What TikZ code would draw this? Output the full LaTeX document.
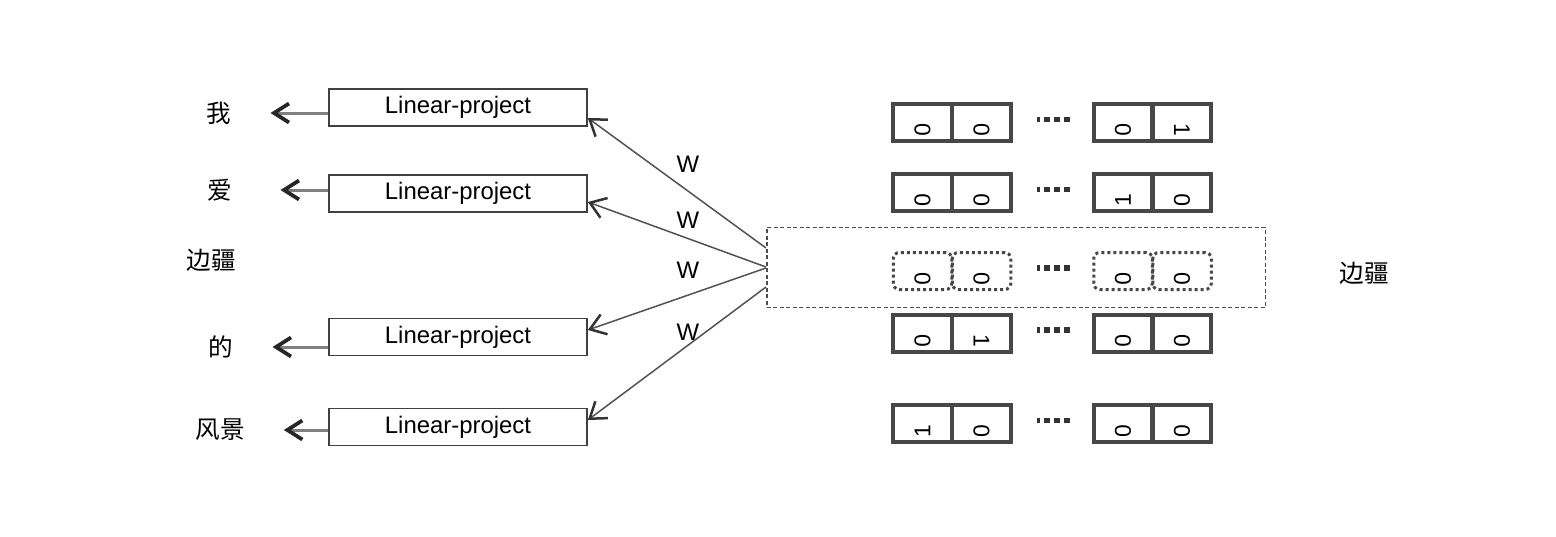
\documentclass[tikz,border=0pt]{standalone}
\usepackage{fontspec}
\setmainfont{Liberation Sans}
\newfontfamily\cjk{Noto Sans CJK SC}
\usepackage{tikz}
\usetikzlibrary{arrows.meta}
\usepackage{xcolor}
\newcommand{\celldots}{\rule{0.6mm}{1.1mm}\hspace{0.9mm}\rule{1.1mm}{1.1mm}\hspace{0.9mm}\rule{1.1mm}{1.1mm}\hspace{0.9mm}\rule{1.1mm}{1.1mm}}

\begin{document}
\begin{tikzpicture}[x=0.2mm,y=-0.2mm]
		
		\tikzset{proj/.style = {shape=rectangle,draw=black!75,line width=0.35mm,minimum width=51.6mm,minimum height=7.4mm,font=\fontsize{13.6}{16}\selectfont}}
		\tikzset{word/.style = {font=\cjk\fontsize{14}{17}\selectfont}}
		\tikzset{wlabel/.style = {font=\fontsize{13.6}{16}\selectfont}}
		\tikzset{cell/.style = {shape=rectangle,draw=black!72,line width=0.8mm,minimum width=11.7mm,minimum height=7.4mm}}
		\tikzset{dcell/.style = {cell,line width=0.6mm,dash pattern=on 0.6mm off 0.6mm,rounded corners=1.2mm}}
		\tikzset{digit/.style = {font=\fontsize{13}{16}\selectfont,inner sep=0}}
		\tikzset{toword/.style = {draw=black!50,line width=0.6mm,-{Straight Barb[length=3mm,width=3.8mm,line width=0.75mm,color=black!85]},shorten >=6.6mm}}
		\tikzset{edge/.style = {draw=black!68,line width=0.3mm,-{Straight Barb[length=3mm,width=4.2mm,line width=0.5mm,color=black!80]}}}
		\useasboundingbox (0,0) rectangle (1556,536);
		
		\node[proj] (lp1) at (458,107.5) {Linear-project};
		\node[proj] (lp2) at (458,193.5) {Linear-project};
		\node[proj] (lp3) at (458,337) {Linear-project};
		\node[proj] (lp4) at (458,427) {Linear-project};
		\node[word] (w1) at (219,113) {我};
		\node[word] (w2) at (220,190) {爱};
		\node[word] (w3) at (211,260) {边疆};
		\node[word] (w4) at (221,347) {的};
		\node[word] (w5) at (220,430) {风景};
		
		%one-hot rows
		\node[draw=black!70,line width=0.3mm,dash pattern=on 0.8mm off 0.5mm,minimum width=99.7mm,minimum height=16mm] (emb) at (1016,267.5) {};
		\foreach \r/\y/\a/\b/\c/\d/\t/\s in {1/122.5/0/0/0/1/-90/cell, 2/192.5/0/0/1/0/90/cell, 3/271/0/0/0/0/-90/dcell, 4/333/0/1/0/0/-90/cell, 5/423.5/1/0/0/0/90/cell}
		{
			\node[\s] (c\r a) at (922.5,\y) {};
			\node[\s] (c\r b) at (981.5,\y) {};
			\node[\s] (c\r c) at (1123,\y) {};
			\node[\s] (c\r d) at (1182,\y) {};
			\node[digit,rotate=\t] at ([yshift=-1.5mm]c\r a.center) {\a};
			\node[digit,rotate=\t] at ([yshift=-1.5mm]c\r b.center) {\b};
			\node[digit,rotate=\t] at ([yshift=-1.5mm]c\r c.center) {\c};
			\node[digit,rotate=\t] at ([yshift=-1.5mm]c\r d.center) {\d};
			\node[text=black!80,inner sep=0] (dots\r) at (1053,\y-3) {\celldots};
		}
		\node[word] (emblabel) at (1364,273) {边疆};
		
		%W labels
		\node[wlabel] (wl1) at (688,164) {W};
		\node[wlabel] (wl2) at (688,220) {W};
		\node[wlabel] (wl3) at (688,270) {W};
		\node[wlabel] (wl4) at (688,332) {W};
		
		%edges
		\draw[edge] ([yshift=3.9mm]emb.west) to ([yshift=-2.1mm]lp1.east);
		\draw[edge] ([yshift=0.1mm]emb.west) to ([yshift=-1.7mm]lp2.east);
		\draw[edge] ([yshift=-0.1mm]emb.west) to ([yshift=1.4mm]lp3.east);
		\draw[edge] ([yshift=-3.9mm]emb.west) to ([yshift=1.4mm]lp4.east);
		\draw[toword] (w1 -| lp1.west) -- (w1);
		\draw[toword,shorten >=8.4mm] (w2 -| lp2.west) -- (w2);
		\draw[toword] (w4 -| lp3.west) -- (w4);
		\draw[toword] (w5 -| lp4.west) -- (w5);
		\end{tikzpicture}
\end{document}
